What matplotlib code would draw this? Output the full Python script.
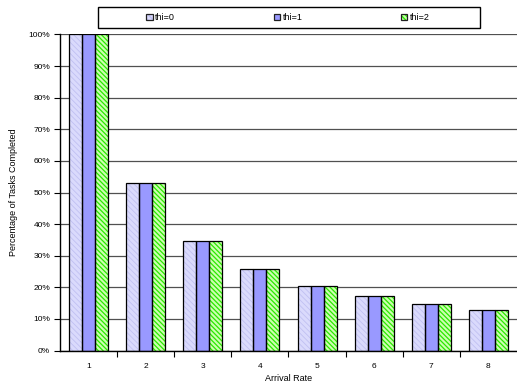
import numpy as np
import matplotlib.pyplot as plt
from matplotlib.patches import Patch, Rectangle
from matplotlib.legend_handler import HandlerTuple

plt.rcParams['font.family'] = ['Liberation Sans', 'DejaVu Sans']

rates = ['1', '2', '3', '4', '5', '6', '7', '8']
thi0 = [1.000, 0.531, 0.347, 0.259, 0.205, 0.172, 0.147, 0.128]
thi1 = [1.000, 0.531, 0.347, 0.259, 0.205, 0.172, 0.147, 0.128]
thi2 = [1.000, 0.531, 0.347, 0.259, 0.205, 0.172, 0.147, 0.128]
labels = ['thi=0', 'thi=1', 'thi=2']

# face colour, hatch pattern, hatch colour, hatch line width
styles = [
    ('#DADAFC', '\\\\\\\\\\\\', '#C0C0F2', 0.6),
    ('#9999FF', None, '#9999FF', 0.6),
    ('#CCFFB0', '\\\\\\\\\\\\\\', '#2AE800', 0.9),
]

fig = plt.figure(figsize=(5.17, 3.85), dpi=100)
ax = fig.add_axes([0.116, 0.0896, 0.884, 0.8208])

x = np.arange(len(rates))
w = 0.228
handles = []
for i, (vals, (fc, hatch, hc, hlw)) in enumerate(zip([thi0, thi1, thi2], styles)):
    pos = x + (i - 1) * w
    with plt.rc_context({'hatch.linewidth': hlw}):
        # fill + hatch first, then the black outline on top
        ax.bar(pos, vals, w, color=fc, hatch=hatch, edgecolor=hc, linewidth=0, zorder=2)
        handles.append((Patch(facecolor=fc, hatch=hatch, edgecolor=hc, linewidth=0),
                        Patch(fill=False, edgecolor='#202020', linewidth=0.9)))
    ax.bar(pos, vals, w, fill=False, edgecolor='black', linewidth=0.9, zorder=3)

ax.set_xlim(-0.5, len(rates) - 0.5)
ax.set_ylim(0, 1.0)
ax.set_yticks(np.arange(0, 1.01, 0.1))
ax.set_yticklabels([f'{int(round(v * 100))}%' for v in np.arange(0, 1.01, 0.1)])
ax.set_xticks(x)
ax.set_xticklabels(rates)
ax.set_xticks(x[:-1] + 0.5, minor=True)
ax.tick_params(axis='x', which='major', length=0, pad=9, labelsize=6)
ax.tick_params(axis='x', which='minor', length=4, width=0.8, direction='out')
ax.tick_params(axis='y', length=4, width=0.8, direction='out', pad=3, labelsize=6)

ax.yaxis.grid(True, color='#505050', linewidth=0.9, zorder=0)
ax.set_axisbelow(True)
for s in ['top', 'right']:
    ax.spines[s].set_visible(False)
for s in ['left', 'bottom']:
    ax.spines[s].set_linewidth(1.0)
    ax.spines[s].set_zorder(4)

ax.set_xlabel('Arrival Rate', fontsize=6.5, labelpad=3)
ax.set_ylabel('Percentage of Tasks Completed', fontsize=6.5, labelpad=8)

# legend box frame drawn separately so the entries can sit centred in it
fig.patches.append(Rectangle((98 / 517, 1 - 28 / 385), (480 - 98) / 517, 21 / 385,
                             transform=fig.transFigure, fill=False,
                             edgecolor='black', linewidth=1.0))
fig.legend(handles, labels, loc='center', ncol=3,
           bbox_to_anchor=(288 / 517, 1 - 17.5 / 385), fontsize=6.5,
           handler_map={tuple: HandlerTuple(ndivide=1, pad=0)},
           handlelength=0.7, handleheight=0.7, handletextpad=0.3,
           columnspacing=10.9, frameon=False)

fig.savefig('out.png', dpi=100)
